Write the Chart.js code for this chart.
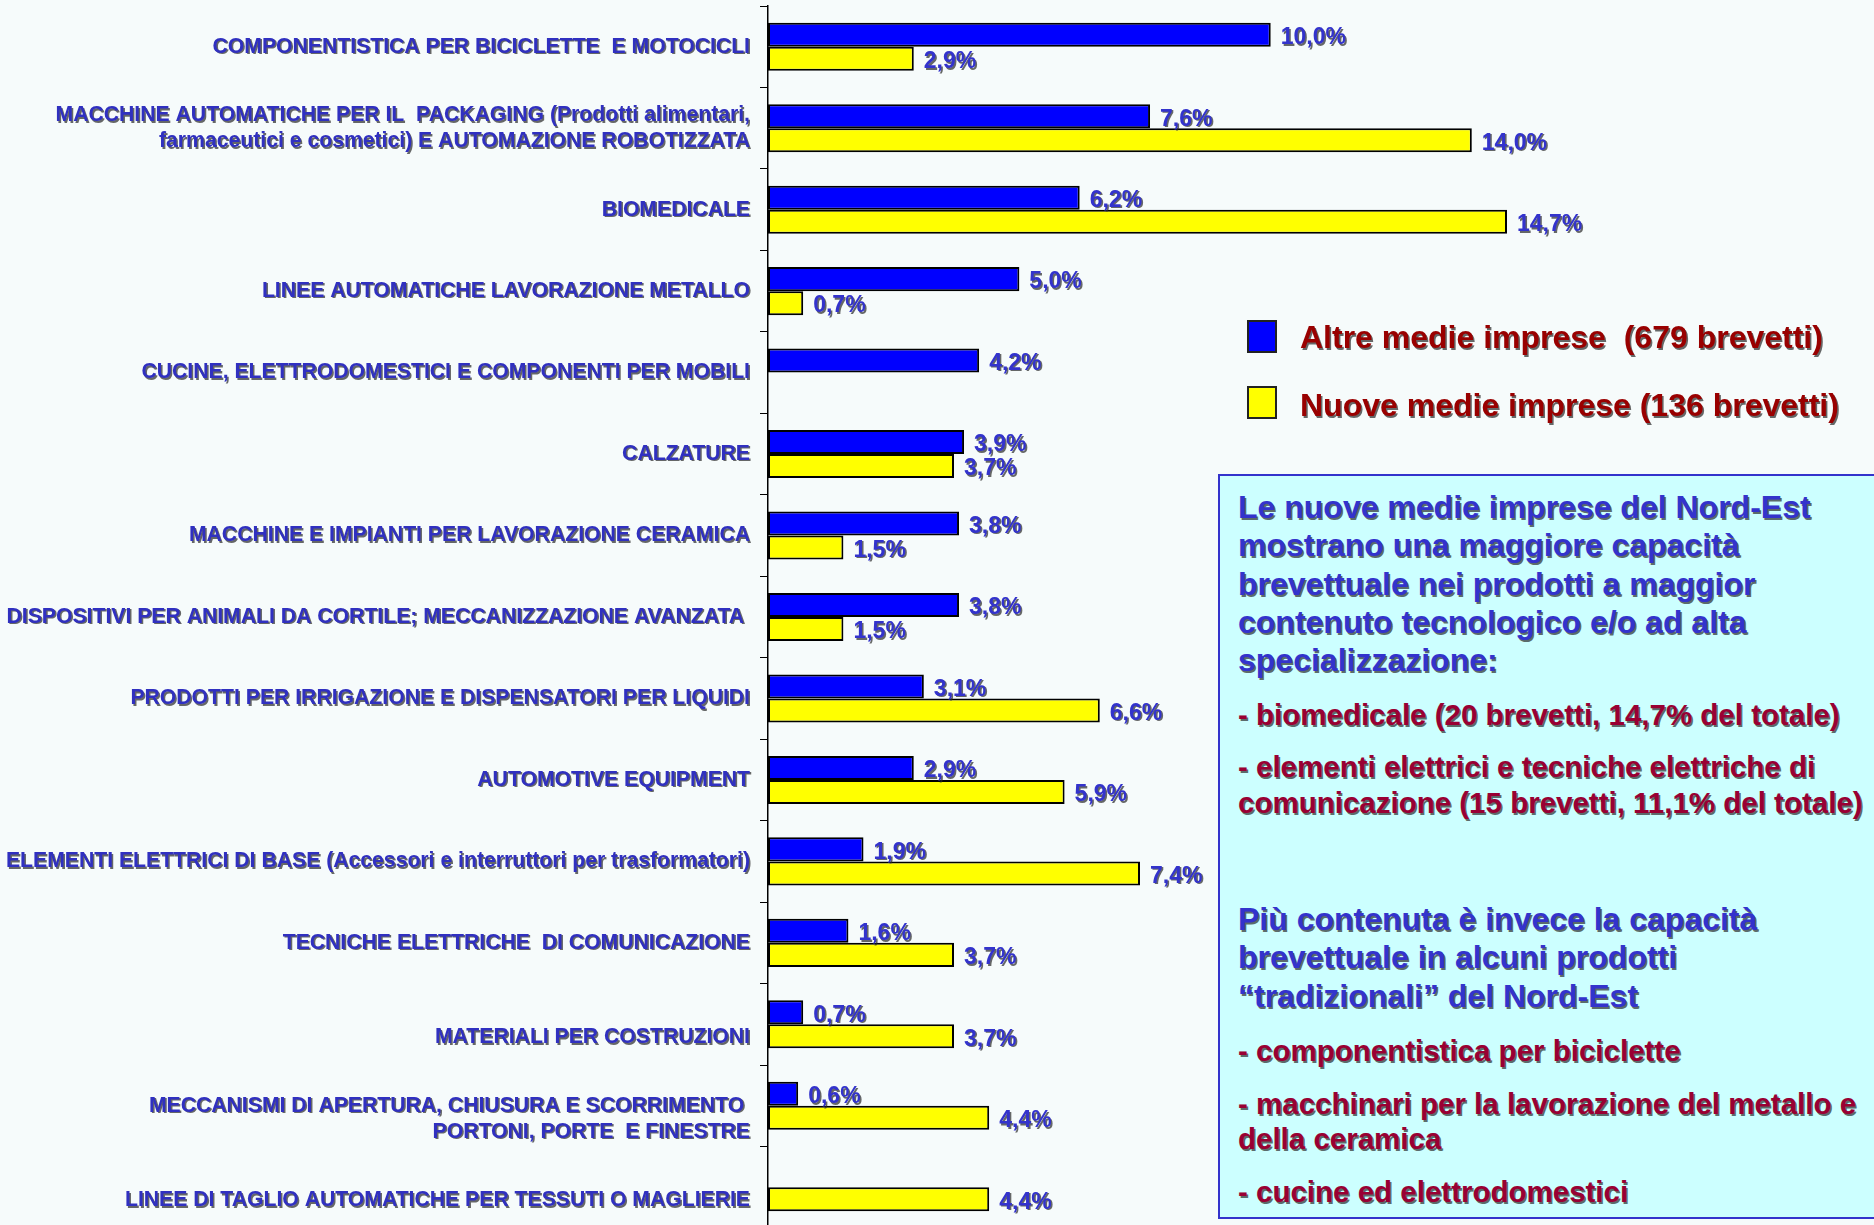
<!DOCTYPE html>
<html lang="it">
<head>
<meta charset="utf-8">
<title>Capacità brevettuale delle medie imprese del Nord-Est</title>
<script src="https://cdn.jsdelivr.net/npm/chart.js@4.4.1/dist/chart.umd.min.js"></script>
<style>
  html, body { margin: 0; padding: 0; }
  body {
    width: 1874px; height: 1225px; overflow: hidden; position: relative;
    background: #f6fbfb;
    font-family: "Liberation Sans", Arial, sans-serif; font-weight: bold;
  }
  #wrap { position: absolute; left: 0; top: 0; width: 1874px; height: 1228px; }
  .legend-box { position: absolute; left: 1247px; width: 26px; height: 29px; border: 2px solid #222; }
  .legend-text {
    position: absolute; left: 1300px; font-size: 32px; line-height: 32px; white-space: pre;
    color: #990000; text-shadow: 1.5px 1.5px 0 rgba(40, 40, 40, 0.7);
  }
  #note {
    position: absolute; left: 1218px; top: 474px; width: 700px; height: 741px;
    background: #ccffff; border: 2px solid #3333cc;
  }
  .p {
    position: absolute; left: 1238px; white-space: nowrap;
    text-shadow: 1.5px 1.5px 0 rgba(40, 40, 40, 0.7);
  }
  .head { color: #3333cc; font-size: 32px; line-height: 38.25px; }
  .item { color: #990033; font-size: 29.5px; line-height: 36px; }
</style>
</head>
<body>
<div id="wrap"><canvas id="chart"></canvas></div>
<div id="legend"></div>
<div id="note"></div>
<div class="p head" style="top:488px">Le nuove medie imprese del Nord-Est<br>mostrano una maggiore capacità<br>brevettuale nei prodotti a maggior<br>contenuto tecnologico e/o ad alta<br>specializzazione:</div>
<div class="p item" style="top:697px">- biomedicale (20 brevetti, 14,7% del totale)</div>
<div class="p item" style="top:749px">- elementi elettrici e tecniche elettriche di<br>comunicazione (15 brevetti, 11,1% del totale)</div>
<div class="p head" style="top:900px">Più contenuta è invece la capacità<br>brevettuale in alcuni prodotti<br>“tradizionali” del Nord-Est</div>
<div class="p item" style="top:1033px">- componentistica per biciclette</div>
<div class="p item" style="top:1086px; line-height:35px">- macchinari per la lavorazione del metallo e<br>della ceramica</div>
<div class="p item" style="top:1174px">- cucine ed elettrodomestici</div>
<script>
// categorie (le etichette su due righe sono array)
const categories = [
  'COMPONENTISTICA PER BICICLETTE  E MOTOCICLI',
  ['MACCHINE AUTOMATICHE PER IL  PACKAGING (Prodotti alimentari,', 'farmaceutici e cosmetici) E AUTOMAZIONE ROBOTIZZATA'],
  'BIOMEDICALE',
  'LINEE AUTOMATICHE LAVORAZIONE METALLO',
  'CUCINE, ELETTRODOMESTICI E COMPONENTI PER MOBILI',
  'CALZATURE',
  'MACCHINE E IMPIANTI PER LAVORAZIONE CERAMICA',
  'DISPOSITIVI PER ANIMALI DA CORTILE; MECCANIZZAZIONE AVANZATA ',
  'PRODOTTI PER IRRIGAZIONE E DISPENSATORI PER LIQUIDI',
  'AUTOMOTIVE EQUIPMENT',
  'ELEMENTI ELETTRICI DI BASE (Accessori e interruttori per trasformatori)',
  'TECNICHE ELETTRICHE  DI COMUNICAZIONE',
  'MATERIALI PER COSTRUZIONI',
  ['MECCANISMI DI APERTURA, CHIUSURA E SCORRIMENTO ', 'PORTONI, PORTE  E FINESTRE'],
  'LINEE DI TAGLIO AUTOMATICHE PER TESSUTI O MAGLIERIE'
];

// quota % dei brevetti
const altreValues = [10.0, 7.6, 6.2, 5.0, 4.2, 3.9, 3.8, 3.8, 3.1, 2.9, 1.9, 1.6, 0.7, 0.6, null];
const nuoveValues = [2.9, 14.0, 14.7, 0.7, null, 3.7, 1.5, 1.5, 6.6, 5.9, 7.4, 3.7, 3.7, 4.4, 4.4];

const seriesNames = ['Altre medie imprese  (679 brevetti)', 'Nuove medie imprese (136 brevetti)'];
const seriesColors = ['#0000ff', '#ffff00'];
const xMax = 22;

const FONT = '"Liberation Sans", Arial, sans-serif';
const SHADOW = 'rgba(40, 40, 40, 0.7)';

// some labels sit a bit lower than their row in the original
const lowerLabels = [12, 13, 14];

function pct(v) {
  return v.toFixed(1).replace('.', ',') + '%';
}

// shadow on the category labels only
const labelShadow = {
  id: 'labelShadow',
  beforeDraw(chart) {
    const c = chart.ctx;
    c.save();
    c.shadowColor = SHADOW;
    c.shadowOffsetX = 1.5;
    c.shadowOffsetY = 1.5;
    c.shadowBlur = 0;
  },
  beforeDatasetsDraw(chart) {
    chart.ctx.restore();
  }
};

const valueLabels = {
  id: 'valueLabels',
  afterDatasetsDraw(chart) {
    const c = chart.ctx;
    c.save();
    c.font = 'bold 23px ' + FONT;
    c.fillStyle = '#3333cc';
    c.textBaseline = 'middle';
    c.shadowColor = SHADOW;
    c.shadowOffsetX = 1.5;
    c.shadowOffsetY = 1.5;
    chart.data.datasets.forEach((ds, i) => {
      chart.getDatasetMeta(i).data.forEach((bar, j) => {
        const v = ds.data[j];
        if (v == null) return;
        c.fillText(pct(v), bar.x + 10, bar.y + 3);
      });
    });
    c.restore();
  }
};

new Chart(document.getElementById('chart'), {
  type: 'bar',
  data: {
    labels: categories,
    datasets: [
      { label: seriesNames[0], data: altreValues, backgroundColor: seriesColors[0] },
      { label: seriesNames[1], data: nuoveValues, backgroundColor: seriesColors[1] }
    ]
  },
  options: {
    indexAxis: 'y',
    responsive: true,
    maintainAspectRatio: false,
    animation: false,
    layout: { padding: { top: 6, right: 0, bottom: 0, left: 0 } },
    datasets: {
      bar: { categoryPercentage: 0.59, barPercentage: 1, borderColor: '#000', borderWidth: 2, borderSkipped: false }
    },
    plugins: {
      legend: { display: false },
      tooltip: { enabled: false }
    },
    scales: {
      x: { display: false, min: 0, max: xMax },
      y: {
        afterFit(scale) {
          scale.width = 768;
          scale.paddingTop = 0;
          scale.paddingBottom = 0;
        },
        grid: { offset: true, drawOnChartArea: false, color: '#000', tickLength: 8, z: 1 },
        border: { color: '#000', width: 1.5, z: 1 },
        ticks: {
          autoSkip: false, minRotation: 0, maxRotation: 0, padding: 10,
          color: '#3030c0',
          font: { family: FONT, size: 21.2, weight: 'bold', lineHeight: '26px' },
          callback(value, index) {
            const lbl = this.getLabelForValue(value);
            const lines = Array.isArray(lbl) ? lbl : [lbl];
            return lowerLabels.includes(index) ? [''].concat(lines) : lines;
          }
        }
      }
    }
  },
  plugins: [labelShadow, valueLabels]
});

// legenda
const legend = document.getElementById('legend');
const legendTops = [320, 386];
const legendTextTops = [321, 389];
seriesNames.forEach((name, i) => {
  const box = document.createElement('div');
  box.className = 'legend-box';
  box.style.top = legendTops[i] + 'px';
  box.style.background = seriesColors[i];
  legend.appendChild(box);
  const txt = document.createElement('div');
  txt.className = 'legend-text';
  txt.style.top = legendTextTops[i] + 'px';
  txt.textContent = name;
  legend.appendChild(txt);
});
</script>
</body>
</html>
